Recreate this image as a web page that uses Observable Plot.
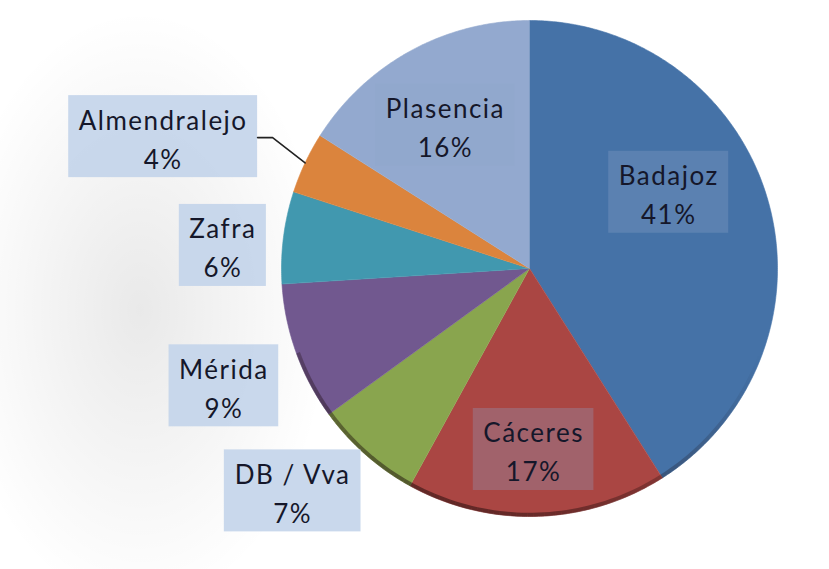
<!DOCTYPE html>
<html><head><meta charset="utf-8">
<script src="https://cdn.jsdelivr.net/npm/d3@7"></script>
<script src="https://cdn.jsdelivr.net/npm/@observablehq/plot@0.6"></script>
<style>
html,body{margin:0;padding:0;background:#fff;}
#chart{position:relative;width:829px;height:569px;overflow:hidden;
 background: radial-gradient(ellipse 190px 300px at 140px 310px, rgba(0,0,0,0.085), rgba(0,0,0,0) 100%);}
#chart svg text{letter-spacing:1.5px;}
</style></head><body><div id="chart"></div>
<script>
// ---- data ----
const names  = ["Badajoz","Cáceres","DB / Vva","Mérida","Zafra","Almendralejo","Plasencia"];
const shares = [41, 17, 7, 9, 6, 4, 16];
const colors = ["#4572a7","#aa4643","#89a54e","#71588f","#4198af","#db843d","#93a9cf"];

// ---- layout (label placement, not data) ----
const labelRadius = [0.64, 0.73, 1.31, 1.32, 1.24, 1.57, 0.67];
const labelTurn   = [-12.5, 0.5, 5.4, -1.2, -2.9, -5.4, -1.6]; // degrees
const labelInside = [true, true, false, false, false, false, true];
const leaderFor   = ["Almendralejo"];

const W = 829, H = 569, CX = 529, CY = 268, R = 248;
const k = 1 / R; // data units per pixel
const FONT = 26, FAMILY = "Lato";

const total = d3.sum(shares);
let acc = 0;
const slices = names.map((name, i) => {
  const a0 = acc / total * 2 * Math.PI;
  acc += shares[i];
  const a1 = acc / total * 2 * Math.PI;
  return {name, value: shares[i], a0, a1, mid: (a0 + a1) / 2, i};
});

// polygon points for each slice
const pts = [];
for (const s of slices) {
  pts.push({name: s.name, x: 0, y: 0});
  const n = Math.max(2, Math.ceil((s.a1 - s.a0) / (Math.PI / 360)));
  for (let j = 0; j <= n; j++) {
    const t = s.a0 + (s.a1 - s.a0) * j / n;
    pts.push({name: s.name, x: Math.sin(t), y: Math.cos(t)});
  }
}

// rim shading along bottom-right edge
const rim = [];
const N = 160;
for (let j = 0; j < N; j++) {
  const t0 = (40 + (250 - 40) * j / N) * Math.PI / 180;
  const t1 = (40 + (250 - 40) * (j + 1) / N) * Math.PI / 180;
  const tm = (t0 + t1) / 2;
  const o = Math.max(0, -Math.cos(tm - 0.35)) ** 1.2 * 0.5;
  rim.push({x1: Math.sin(t0) * 0.993, y1: Math.cos(t0) * 0.993, x2: Math.sin(t1) * 0.993, y2: Math.cos(t1) * 0.993, o});
}

// text measurement
const ctx = document.createElement("canvas").getContext("2d");
ctx.font = `${FONT}px ${FAMILY}`;
const tw = s => ctx.measureText(s).width + 1.5 * s.length;

const labels = slices.map(s => {
  const ang = s.mid + labelTurn[s.i] * Math.PI / 180;
  const r = labelRadius[s.i];
  const x = Math.sin(ang) * r, y = Math.cos(ang) * r;
  const line1 = s.name, line2 = `${s.value}%`;
  const w = Math.max(tw(line1), tw(line2)) + 20;
  const h = 82;
  return {name: s.name, text: `${line1}\n${line2}`, x, y,
    x1: x - w / 2 * k, x2: x + w / 2 * k, y1: y - h / 2 * k, y2: y + h / 2 * k,
    inside: labelInside[s.i], mid: s.mid};
});

const leaders = [];
for (const L of labels.filter(l => leaderFor.includes(l.name))) {
  const yy = L.y - 1 * k;
  leaders.push({g: L.name, x: L.x2, y: yy});
  leaders.push({g: L.name, x: L.x2 + 15 * k, y: yy});
  leaders.push({g: L.name, x: Math.sin(L.mid) * 1.0, y: Math.cos(L.mid) * 1.0});
}

const chart = Plot.plot({
  width: W, height: H,
  marginTop: 0, marginRight: 0, marginBottom: 0, marginLeft: 0,
  x: {domain: [-1, 1], range: [CX - R, CX + R], axis: null},
  y: {domain: [-1, 1], range: [CY + R, CY - R], axis: null},
  color: {domain: names, range: colors},
  style: {background: "transparent", overflow: "visible"},
  marks: [
    Plot.line(pts, {x: "x", y: "y", z: "name", fill: "name", stroke: "name", strokeWidth: 0.6, curve: "linear"}),
    Plot.link(rim, {x1: "x1", y1: "y1", x2: "x2", y2: "y2", stroke: "#1a0a0a", strokeOpacity: "o", strokeWidth: 4}),
    Plot.rect(labels.filter(d => !d.inside), {x1: "x1", x2: "x2", y1: "y1", y2: "y2", fill: "#c3d4ea", fillOpacity: 0.9}),
    Plot.rect(labels.filter(d => d.inside), {x1: "x1", x2: "x2", y1: "y1", y2: "y2", fill: "#8fa7c9", fillOpacity: 0.3}),
    Plot.line(leaders, {x: "x", y: "y", z: "g", stroke: "#222", strokeWidth: 1.6}),
    Plot.text(labels, {x: "x", y: "y", text: "text", fontSize: FONT, fontFamily: FAMILY, lineHeight: 1.5, fill: "#15172a"})
  ]
});
document.getElementById("chart").appendChild(chart);
</script>
</body></html>
